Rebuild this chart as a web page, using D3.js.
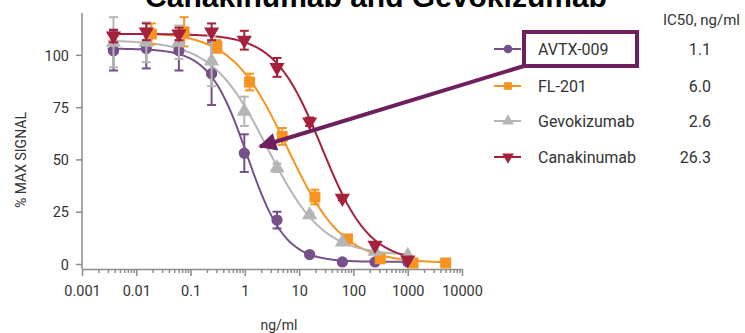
<!DOCTYPE html>
<html lang="en">
  <head>
    <meta charset="utf-8">
    <title>IC50 curves</title>
    <style>
    body { margin: 0; background: #fff; }
    #chart { width: 745px; height: 333px; }
    text { font-family: Roboto, "Noto Sans", sans-serif; fill: #333; }
    .title { font-family: "Liberation Sans", Arial, sans-serif; font-weight: bold; fill: #000; }
    .axis path, .axis line { stroke: #8c8c8c; stroke-width: 1.5; }
    .axis text { font-family: Roboto, sans-serif; font-size: 14.5px; fill: #333; }
    </style>
  </head>
  <body>
    <div id="chart"></div>

    <script src="https://d3js.org/d3.v7.min.js"></script>
    <script>
    (function(d3) {
        'use strict';

        // concentrations (ng/ml), 4-fold dilution series
        var concA = [0.0038, 0.0153, 0.061, 0.244, 0.977, 3.91, 15.6, 62.5, 250, 1000];
        var concFL = [0.019, 0.076, 0.305, 1.22, 4.88, 19.5, 78, 312, 1250, 5000];

        var names = ['AVTX-009', 'FL-201', 'Gevokizumab', 'Canakinumab'];
        var ic50Labels = ['1.1', '6.0', '2.6', '26.3'];

        var avtxValues = [102, 103, 102, 91, 53, 21, 4.5, 1, 1, 1];
        var avtxErr = [9.5, 9.5, 9.5, 15, 9, 4, 0, 0, 0, 0];
        var flValues = [110, 111, 104, 87, 61, 32, 12, 2.5, 0.5, 0.5];
        var flErr = [5, 7, 3, 4, 4, 3.5, 1, 0, 0, 0];
        var gevoValues = [106, 106, 106, 97, 73, 46, 23.5, 10.5, 6, 4];
        var gevoErr = [12, 9.5, 8, 12, 7, 2, 1, 0, 0, 0];
        var canaValues = [109, 111, 110, 111, 107, 94, 68, 31.5, 9, 2];
        var canaErr = [3, 4, 3, 4, 4.5, 4.5, 2, 1, 0, 0];

        // 4PL fit parameters
        var fitTop = [103, 111, 107, 110];
        var fitBottom = [1, 0.5, 4, 1];
        var fitIC50 = [1.1, 6.0, 2.6, 26.3];
        var fitHill = [1.25, 0.85, 0.85, 1.0];

        var xMajor = [0.001, 0.01, 0.1, 1, 10, 100, 1000, 10000];
        var yTicks = [0, 25, 50, 75, 100];

        var colors = ['#76508a', '#f7931e', '#b5b5b5', '#a5203a'];
        var shapes = [d3.symbolCircle, d3.symbolSquare, d3.symbolTriangle, d3.symbolTriangle];
        var rotations = [0, 0, 0, 180];

        var series = [
            {x: concA, y: avtxValues, e: avtxErr},
            {x: concFL, y: flValues, e: flErr},
            {x: concA, y: gevoValues, e: gevoErr},
            {x: concA, y: canaValues, e: canaErr}
        ];

        var width = 745, height = 333;
        var x = d3.scaleLog().domain([0.001, 10000]).range([82, 462]);
        var y = d3.scaleLinear().domain([0, 120]).range([264, 13]);
        var xAxisY = 269;

        var svg = d3.select('#chart').append('svg')
            .attr('width', width)
            .attr('height', height);

        // title (cut off at top, as in the source)
        svg.append('text')
            .attr('class', 'title')
            .attr('x', 376)
            .attr('y', 7)
            .attr('text-anchor', 'middle')
            .style('font-size', '30px')
            .text('Canakinumab and Gevokizumab');

        // minor ticks
        var minor = [];
        xMajor.slice(0, -1).forEach(function(m) {
            for (var k = 2; k < 10; k++) minor.push(m * k);
        });
        svg.append('g')
            .attr('class', 'axis')
            .attr('transform', 'translate(0,' + xAxisY + ')')
            .call(d3.axisBottom(x).tickValues(minor).tickSize(4).tickFormat(''))
            .select('.domain').remove();

        var xAxis = svg.append('g')
            .attr('class', 'axis')
            .attr('transform', 'translate(0,' + xAxisY + ')')
            .call(d3.axisBottom(x).tickValues(xMajor).tickSize(7).tickSizeOuter(0)
                .tickFormat(function(d) { return String(d); }));
        xAxis.selectAll('text').attr('dy', '1.2em');

        var yAxis = svg.append('g')
            .attr('class', 'axis')
            .attr('transform', 'translate(82,0)')
            .call(d3.axisLeft(y).tickValues(yTicks).tickSize(6).tickSizeOuter(0));
        yAxis.select('.domain').remove();
        yAxis.selectAll('text').attr('x', -13).attr('dy', '0.36em');
        yAxis.append('line')
            .attr('x1', 0).attr('x2', 0)
            .attr('y1', y(120)).attr('y2', xAxisY)
            .attr('stroke', '#8c8c8c').attr('stroke-width', 1.5);

        svg.append('text')
            .attr('transform', 'translate(26,160) rotate(-90)')
            .attr('text-anchor', 'middle')
            .style('font-size', '14px')
            .text('% MAX SIGNAL');

        svg.append('text')
            .attr('x', 279)
            .attr('y', 330)
            .attr('text-anchor', 'middle')
            .style('font-size', '14px')
            .text('ng/ml');

        // fitted curves
        var line = d3.line()
            .x(function(d) { return x(d[0]); })
            .y(function(d) { return y(d[1]); });

        series.forEach(function(s, i) {
            var lo = d3.min(s.x) * 0.78, hi = d3.max(s.x) * 1.15;
            var pts = d3.range(0, 121).map(function(j) {
                var c = Math.pow(10, Math.log10(lo) + (Math.log10(hi) - Math.log10(lo)) * j / 120);
                var v = fitBottom[i] + (fitTop[i] - fitBottom[i]) / (1 + Math.pow(c / fitIC50[i], fitHill[i]));
                return [c, v];
            });
            svg.append('path')
                .datum(pts)
                .attr('d', line)
                .attr('fill', 'none')
                .attr('stroke', colors[i])
                .attr('stroke-width', 2);
        });

        // error bars and markers
        series.forEach(function(s, i) {
            var g = svg.append('g');
            var pts = s.x.map(function(c, j) { return {c: c, v: s.y[j], e: s.e[j]}; });
            var bars = g.selectAll('.eb').data(pts.filter(function(d) { return d.e > 0; }))
                .enter().append('g');
            bars.append('line')
                .attr('x1', function(d) { return x(d.c); })
                .attr('x2', function(d) { return x(d.c); })
                .attr('y1', function(d) { return y(d.v + d.e); })
                .attr('y2', function(d) { return y(d.v - d.e); });
            [1, -1].forEach(function(sg) {
                bars.append('line')
                    .attr('x1', function(d) { return x(d.c) - 4.5; })
                    .attr('x2', function(d) { return x(d.c) + 4.5; })
                    .attr('y1', function(d) { return y(d.v + sg * d.e); })
                    .attr('y2', function(d) { return y(d.v + sg * d.e); });
            });
            bars.selectAll('line')
                .attr('stroke', colors[i])
                .attr('stroke-width', 2);

            g.selectAll('.mk').data(pts).enter().append('path')
                .attr('d', d3.symbol().type(shapes[i]).size(i === 1 ? 120 : 100))
                .attr('transform', function(d) {
                    return 'translate(' + x(d.c) + ',' + y(d.v) + ') rotate(' + rotations[i] + ')';
                })
                .attr('fill', colors[i]);
        });

        // legend
        var rowY = [49, 86, 121, 157];
        var legend = svg.selectAll('.legend')
            .data(names)
            .enter().append('g')
            .attr('transform', function(d, i) { return 'translate(0,' + rowY[i] + ')'; });
        legend.append('line')
            .attr('x1', 494).attr('x2', 521)
            .attr('stroke', function(d, i) { return colors[i]; })
            .attr('stroke-width', 2);
        legend.append('path')
            .attr('d', function(d, i) { return d3.symbol().type(shapes[i]).size(60)(); })
            .attr('transform', function(d, i) { return 'translate(508,0) rotate(' + rotations[i] + ')'; })
            .attr('fill', function(d, i) { return colors[i]; });
        legend.append('text')
            .attr('x', 538)
            .attr('dy', '0.36em')
            .style('font-size', '16px')
            .text(function(d) { return d; });
        legend.append('text')
            .attr('x', 711)
            .attr('dy', '0.36em')
            .attr('text-anchor', 'end')
            .style('font-size', '16px')
            .text(function(d, i) { return ic50Labels[i]; });

        svg.append('text')
            .attr('x', 740)
            .attr('y', 25)
            .attr('text-anchor', 'end')
            .style('font-size', '15px')
            .text('IC50, ng/ml');

        // callout box + arrow pointing at AVTX-009 IC50
        var callout = '#6d1f5e';
        svg.append('rect')
            .attr('x', 524).attr('y', 32)
            .attr('width', 113).attr('height', 34)
            .attr('fill', 'none')
            .attr('stroke', callout)
            .attr('stroke-width', 4);

        svg.append('defs').append('marker')
            .attr('id', 'head')
            .attr('viewBox', '0 0 10 10')
            .attr('refX', 9).attr('refY', 5)
            .attr('markerWidth', 5).attr('markerHeight', 4.5)
            .attr('markerUnits', 'strokeWidth')
            .attr('orient', 'auto')
            .append('path')
            .attr('d', 'M0,0 L10,5 L0,10 Z')
            .attr('fill', callout);

        svg.append('line')
            .attr('x1', 524).attr('y1', 66)
            .attr('x2', 260).attr('y2', 146.5)
            .attr('stroke', callout)
            .attr('stroke-width', 4)
            .attr('marker-end', 'url(#head)');

    })(window.d3);
    </script>
  </body>
</html>
